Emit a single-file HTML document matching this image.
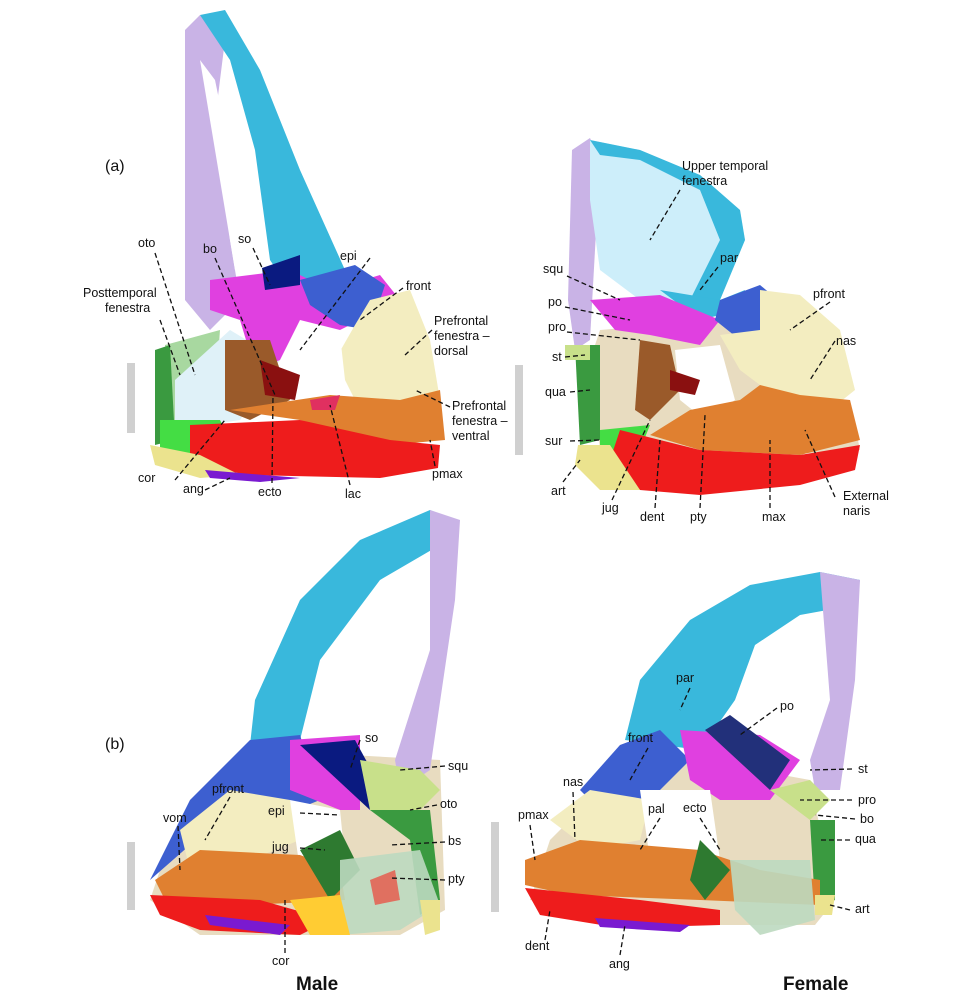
<!DOCTYPE html>
<html><head><meta charset="utf-8"><style>
html,body{margin:0;padding:0;background:#fff;width:958px;height:1000px;overflow:hidden}
svg{display:block}
text{font-family:"Liberation Sans",Arial,sans-serif;font-size:12.5px;fill:#111}
.l{stroke:#111;stroke-width:1.3;stroke-dasharray:5,3;fill:none}
.b{font-weight:bold;font-size:19px}
</style></head><body>
<svg width="958" height="1000" viewBox="0 0 958 1000">
<!-- ========== TOP LEFT (male a) ========== -->
<rect x="127" y="363" width="8" height="70" fill="#d0d0d0"/>
<path d="M185,30 L200,15 L225,40 L215,120 L230,240 L240,300 L210,330 L185,300 Z" fill="#c9b3e6"/>
<path d="M200,60 L215,80 L250,250 L235,270 Z" fill="#fff"/>
<path d="M200,15 L225,10 L260,70 L300,170 L345,270 L330,300 L290,290 L270,260 L255,150 L230,60 Z" fill="#39b8dc"/>
<path d="M165,345 L220,330 L215,400 L165,440 Z" fill="#a8d8a0"/>
<path d="M155,350 L170,345 L175,440 L155,445 Z" fill="#3a9a40"/>
<path d="M175,380 L230,330 L280,360 L240,420 L175,430 Z" fill="#dff1f8"/>
<path d="M210,280 L290,270 L330,290 L380,275 L400,300 L340,330 L300,320 L280,360 L255,370 L240,320 L210,310 Z" fill="#e040e0"/>
<path d="M262,268 L300,255 L300,285 L265,290 Z" fill="#0a1a80"/>
<path d="M300,280 L355,265 L385,285 L370,330 L340,325 L310,305 Z" fill="#3d5fd0"/>
<path d="M370,300 L410,290 L430,340 L440,400 L400,420 L360,410 L335,360 L355,325 Z" fill="#f3edc0"/>
<path d="M225,340 L270,340 L290,400 L250,420 L225,410 Z" fill="#9a5a2a"/>
<path d="M260,360 L300,375 L295,400 L265,395 Z" fill="#8a1010"/>
<path d="M300,330 L340,335 L345,380 L300,385 Z" fill="#fff"/>
<path d="M230,410 L330,395 L400,400 L440,390 L445,440 L390,445 L300,420 Z" fill="#e08030"/>
<path d="M160,420 L220,420 L230,440 L190,455 L160,450 Z" fill="#44dd44"/>
<path d="M190,425 L300,420 L390,440 L440,445 L438,468 L380,478 L250,475 L190,465 Z" fill="#ee1c1c"/>
<path d="M150,445 L200,455 L240,475 L200,478 L155,465 Z" fill="#ebe38e"/>
<path d="M205,470 L300,478 L260,482 L210,478 Z" fill="#7a1ad0"/>
<path d="M310,400 L340,395 L335,410 L312,410 Z" fill="#e03060"/>
<text x="105" y="171" style="font-size:16px">(a)</text>
<text x="138" y="247">oto</text>
<text x="83" y="297">Posttemporal</text><text x="105" y="312">fenestra</text>
<text x="203" y="253">bo</text><text x="238" y="243">so</text>
<text x="340" y="260">epi</text><text x="406" y="290">front</text>
<text x="434" y="325">Prefrontal</text><text x="434" y="340">fenestra –</text><text x="434" y="355">dorsal</text>
<text x="452" y="410">Prefrontal</text><text x="452" y="425">fenestra –</text><text x="452" y="440">ventral</text>
<text x="138" y="482">cor</text><text x="183" y="493">ang</text>
<text x="258" y="496">ecto</text><text x="345" y="498">lac</text><text x="432" y="478">pmax</text>
<path class="l" d="M155,253 L195,375 M160,320 L180,375 M215,258 L275,395 M253,248 L270,285 M370,258 L300,350 M403,288 L360,320 M432,330 L405,355 M450,407 L415,390 M175,480 L225,420 M205,490 L230,478 M272,483 L273,395 M350,485 L330,405 M435,466 L430,440"/>

<!-- ========== TOP RIGHT (female a) ========== -->
<rect x="515" y="365" width="8" height="90" fill="#d0d0d0"/>
<path d="M572,150 L590,138 L600,160 L590,340 L575,350 L568,300 Z" fill="#c9b3e6"/>
<path d="M590,140 L640,150 L700,175 L740,210 L745,240 L720,300 L700,315 L640,300 L600,270 L590,200 Z" fill="#cdeefa"/>
<path d="M590,140 L640,150 L700,175 L740,210 L745,240 L720,300 L700,315 L690,300 L720,240 L700,190 L640,160 L600,155 Z" fill="#39b8dc"/>
<path d="M660,290 L720,300 L745,290 L740,310 L700,320 Z" fill="#39b8dc"/>
<path d="M600,330 L720,320 L770,340 L800,400 L850,400 L860,450 L700,460 L600,450 L590,360 Z" fill="#e8dcc0"/>
<path d="M590,300 L660,295 L720,320 L700,345 L650,335 L615,330 Z" fill="#e040e0"/>
<path d="M720,300 L760,285 L790,310 L780,350 L740,340 L715,320 Z" fill="#3d5fd0"/>
<path d="M760,290 L800,295 L840,330 L855,390 L830,410 L780,400 L740,370 L720,335 L760,330 Z" fill="#f3edc0"/>
<path d="M575,345 L600,345 L600,440 L580,445 Z" fill="#3a9a40"/>
<path d="M565,345 L590,345 L590,360 L565,360 Z" fill="#c8e08a"/>
<path d="M640,340 L670,345 L680,390 L650,420 L635,410 Z" fill="#9a5a2a"/>
<path d="M675,350 L720,345 L735,400 L705,420 L680,400 Z" fill="#fff"/>
<path d="M670,370 L700,380 L695,395 L670,390 Z" fill="#8a1010"/>
<path d="M690,410 L740,400 L760,385 L800,395 L850,400 L860,440 L800,455 L700,450 L650,435 Z" fill="#e08030"/>
<path d="M600,430 L650,425 L640,450 L600,455 Z" fill="#44dd44"/>
<path d="M620,430 L700,450 L800,455 L860,445 L855,470 L800,485 L700,495 L640,490 L610,460 Z" fill="#ee1c1c"/>
<path d="M578,445 L610,445 L640,490 L600,490 L575,465 Z" fill="#ebe38e"/>
<text x="682" y="170">Upper temporal</text><text x="682" y="185">fenestra</text>
<text x="720" y="262">par</text><text x="543" y="273">squ</text><text x="548" y="306">po</text>
<text x="548" y="331">pro</text><text x="813" y="298">pfront</text><text x="836" y="345">nas</text>
<text x="552" y="361">st</text><text x="545" y="396">qua</text><text x="545" y="445">sur</text>
<text x="551" y="495">art</text><text x="602" y="512">jug</text><text x="640" y="521">dent</text>
<text x="690" y="521">pty</text><text x="762" y="521">max</text>
<text x="843" y="500">External</text><text x="843" y="515">naris</text>
<path class="l" d="M680,190 L650,240 M718,267 L700,290 M567,276 L620,300 M565,307 L630,320 M567,332 L640,340 M565,357 L585,355 M570,392 L590,390 M570,441 L600,440 M563,482 L580,460 M612,500 L650,420 M655,508 L660,440 M700,508 L705,415 M770,508 L770,440 M835,497 L805,430 M835,341 L810,380 M830,302 L790,330"/>

<!-- ========== BOTTOM LEFT (male b) ========== -->
<rect x="127" y="842" width="8" height="68" fill="#d0d0d0"/>
<path d="M160,870 L200,800 L260,750 L440,760 L445,910 L400,935 L200,935 L150,900 Z" fill="#e8dcc0"/>
<path d="M255,700 L300,600 L360,540 L430,510 L455,520 L440,545 L380,580 L320,660 L300,740 L250,745 Z" fill="#39b8dc"/>
<path d="M430,510 L460,520 L455,600 L430,770 L400,790 L395,760 L430,650 Z" fill="#c9b3e6"/>
<path d="M150,880 L190,800 L250,740 L300,735 L320,800 L270,820 L230,810 Z" fill="#3d5fd0"/>
<path d="M290,740 L360,735 L360,810 L340,810 L290,790 Z" fill="#e040e0"/>
<path d="M300,745 L355,740 L385,795 L370,810 Z" fill="#0a1a80"/>
<path d="M360,760 L420,770 L440,790 L410,820 L370,810 Z" fill="#c8e08a"/>
<path d="M370,810 L430,810 L440,900 L420,915 L410,840 Z" fill="#3a9a40"/>
<path d="M180,830 L230,790 L290,800 L300,840 L250,860 L190,870 Z" fill="#f3edc0"/>
<path d="M290,800 L340,810 L345,860 L300,870 Z" fill="#fff"/>
<path d="M155,880 L200,850 L300,855 L340,870 L345,900 L250,905 L165,900 Z" fill="#e08030"/>
<path d="M300,850 L340,830 L360,870 L330,900 Z" fill="#2e7a30"/>
<path d="M340,860 L420,850 L440,905 L400,930 L340,935 Z" fill="#bcd9c0" opacity=".9"/>
<path d="M370,880 L395,870 L400,900 L375,905 Z" fill="#e07060"/>
<path d="M150,895 L260,900 L330,920 L300,935 L200,930 L160,915 Z" fill="#ee1c1c"/>
<path d="M205,915 L290,925 L280,935 L210,925 Z" fill="#7a1ad0"/>
<path d="M290,900 L340,895 L350,935 L310,935 Z" fill="#ffcc33"/>
<path d="M420,900 L440,900 L440,930 L425,935 Z" fill="#ebe38e"/>
<text x="105" y="749" style="font-size:16px">(b)</text>
<text x="365" y="742">so</text><text x="448" y="770">squ</text><text x="212" y="793">pfront</text>
<text x="440" y="808">oto</text><text x="268" y="815">epi</text><text x="163" y="822">vom</text>
<text x="272" y="851">jug</text><text x="448" y="845">bs</text><text x="448" y="883">pty</text>
<text x="272" y="965">cor</text>
<text x="296" y="990" class="b">Male</text>
<path class="l" d="M360,740 L350,770 M445,766 L400,770 M230,797 L205,840 M437,805 L410,810 M300,813 L340,815 M178,826 L180,870 M300,848 L325,850 M445,842 L390,845 M445,880 L390,878 M285,953 L285,900"/>

<!-- ========== BOTTOM RIGHT (female b) ========== -->
<rect x="491" y="822" width="8" height="90" fill="#d0d0d0"/>
<path d="M550,840 L600,790 L700,760 L810,780 L835,900 L815,925 L700,925 L530,900 Z" fill="#e8dcc0"/>
<path d="M625,740 L640,680 L690,620 L750,585 L820,572 L860,580 L855,605 L800,615 L755,645 L735,700 L700,750 Z" fill="#39b8dc"/>
<path d="M820,572 L860,580 L855,680 L840,790 L815,790 L810,760 L830,700 Z" fill="#c9b3e6"/>
<path d="M580,790 L620,745 L660,730 L690,760 L650,800 L600,810 Z" fill="#3d5fd0"/>
<path d="M680,730 L760,735 L800,760 L770,800 L720,800 L690,780 Z" fill="#e040e0"/>
<path d="M705,730 L730,715 L790,760 L770,790 Z" fill="#22307a"/>
<path d="M770,790 L810,780 L830,800 L810,820 Z" fill="#c8e08a"/>
<path d="M810,820 L835,820 L835,900 L815,905 Z" fill="#3a9a40"/>
<path d="M550,820 L590,790 L650,800 L640,840 L590,850 Z" fill="#f3edc0"/>
<path d="M640,790 L710,790 L720,860 L650,860 Z" fill="#fff"/>
<path d="M525,860 L580,840 L700,850 L760,870 L820,880 L820,905 L700,900 L570,895 L525,885 Z" fill="#e08030"/>
<path d="M700,840 L730,870 L705,900 L690,880 Z" fill="#2e7a30"/>
<path d="M730,860 L810,860 L815,920 L760,935 L735,910 Z" fill="#bcd9c0" opacity=".9"/>
<path d="M525,888 L640,900 L720,910 L720,925 L620,928 L540,915 Z" fill="#ee1c1c"/>
<path d="M595,918 L690,925 L680,932 L600,927 Z" fill="#7a1ad0"/>
<path d="M815,895 L835,895 L832,915 L815,915 Z" fill="#ebe38e"/>
<text x="676" y="682">par</text><text x="780" y="710">po</text><text x="628" y="742">front</text>
<text x="858" y="773">st</text><text x="563" y="786">nas</text><text x="683" y="812">ecto</text>
<text x="648" y="813">pal</text><text x="858" y="804">pro</text><text x="518" y="819">pmax</text>
<text x="860" y="823">bo</text><text x="855" y="843">qua</text><text x="855" y="913">art</text>
<text x="525" y="950">dent</text><text x="609" y="968">ang</text>
<text x="783" y="990" class="b">Female</text>
<path class="l" d="M690,688 L680,710 M777,708 L740,735 M648,748 L630,780 M852,769 L810,770 M573,792 L575,840 M700,818 L720,850 M660,818 L640,850 M852,800 L800,800 M530,825 L535,860 M855,819 L815,815 M850,840 L820,840 M850,910 L830,905 M545,940 L550,910 M620,955 L625,925"/>
</svg>
</body></html>
